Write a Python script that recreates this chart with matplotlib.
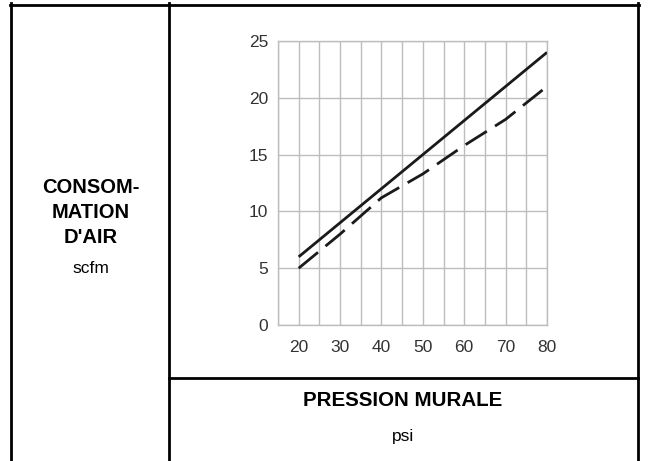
import matplotlib
matplotlib.use("Agg")
import matplotlib.pyplot as plt
from matplotlib.lines import Line2D

# Air consumption (scfm) vs. wall pressure (psi)
pressure_psi = [20, 30, 40, 50, 60, 70, 80]
consumption_solid = [6, 9, 12, 15, 18, 21, 24]
consumption_dashed = [5, 8, 11.2, 13.3, 15.8, 18.1, 21]

x_ticks = [20, 30, 40, 50, 60, 70, 80]
y_ticks = [0, 5, 10, 15, 20, 25]
x_grid = list(range(15, 81, 5))
y_grid = list(range(0, 26, 5))

row_title = ["CONSOM-", "MATION", "D'AIR"]
row_unit = "scfm"
col_title = "PRESSION MURALE"
col_unit = "psi"

W, H = 648, 461
plt.rcParams["font.family"] = ["Liberation Sans", "DejaVu Sans"]

fig = plt.figure(figsize=(W / 100, H / 100), dpi=100)
fig.patch.set_facecolor("white")


def fx(px):
    return px / W


def fy(py):
    return 1 - py / H


# Chart area
left, right, top, bottom = 278, 547, 41, 325
ax = fig.add_axes([fx(left), fy(bottom), fx(right) - fx(left), fy(top) - fy(bottom)])
ax.set_xlim(15, 80)
ax.set_ylim(0, 25)

grid_color = "#bdbdbd"
for gx in x_grid:
    ax.axvline(gx, color=grid_color, lw=1.0, zorder=1)
for gy in y_grid:
    ax.axhline(gy, color=grid_color, lw=1.0, zorder=1)
for s in ax.spines.values():
    s.set_color(grid_color)
    s.set_linewidth(1.0)

ax.plot(pressure_psi, consumption_solid, color="#1a1a1a", lw=2.0,
        solid_capstyle="butt", zorder=3)
ax.plot(pressure_psi, consumption_dashed, color="#1a1a1a", lw=2.0,
        ls=(0, (9, 3.5)), dash_capstyle="butt", zorder=3)

ax.set_xticks(x_ticks)
ax.set_yticks(y_ticks)
ax.tick_params(length=0, labelsize=12.5, labelcolor="#333333")
ax.tick_params(axis="x", pad=11)
ax.tick_params(axis="y", pad=7)

# Table frame around the chart
frame = fig.add_axes([0, 0, 1, 1], zorder=5)
frame.set_xlim(0, W)
frame.set_ylim(H, 0)
frame.axis("off")
frame.patch.set_alpha(0)
lw_frame = 2.0
segments = [
    ((11, 11), (3, H)),
    ((168.5, 168.5), (3, H)),
    ((638, 638), (3, H)),
    ((10, 639), (5.3, 5.3)),
    ((168.5, 638), (378, 378)),
]
for xs, ys in segments:
    frame.add_line(Line2D(xs, ys, color="black", lw=lw_frame))

# Row header
line_y = [187, 212, 237]
for txt, yy in zip(row_title, line_y):
    frame.text(90.5, yy, txt, ha="center", va="center", fontsize=14.5,
               fontweight="bold", color="black")
frame.text(91, 268, row_unit, ha="center", va="center", fontsize=12.5, color="black")

# Column header
frame.text(403, 400, col_title, ha="center", va="center", fontsize=14.8,
           fontweight="bold", color="black")
frame.text(403, 436, col_unit, ha="center", va="center", fontsize=12.5, color="black")

fig.savefig("out.png", dpi=100)
